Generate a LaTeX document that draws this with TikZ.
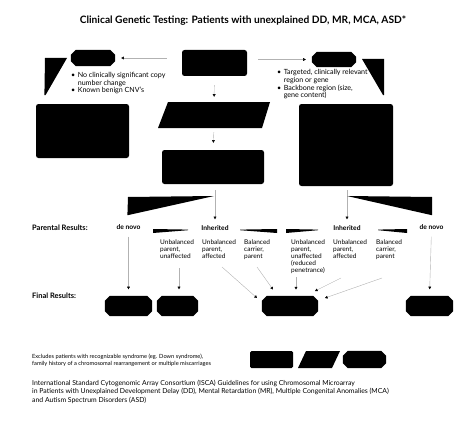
\documentclass[tikz,border=0pt]{standalone}
\usepackage{fontspec}
\setmainfont{Lato}
\usetikzlibrary{arrows.meta,calc}

\tikzset{
  blk/.style={fill=black, draw=none, rounded corners=2.5pt, inner sep=0},
  ghost/.style={inner sep=0, draw=none},
  arr/.style={draw=gray!60, line width=0.4pt, -{Triangle[length=2.6pt,width=2.8pt,color=black]}},
  tip/.style={-{Triangle[length=2.6pt,width=2.8pt,color=black]}, draw=none},
  wedge/.style={fill=black, draw=none},
  lbl/.style={font=\fontsize{6.5}{7}\selectfont, align=left, anchor=north west, inner sep=0},
  hdr/.style={font=\fontsize{6.7}{7.5}\selectfont\bfseries, inner sep=0},
  rowhdr/.style={font=\fontsize{7.5}{8}\selectfont\bfseries, inner sep=0, anchor=west},
  note/.style={align=left, anchor=north west, inner sep=0},
}

\newcommand\octbox[5]{%
  \node[ghost, minimum width=#4pt, minimum height=#5pt] (#1) at (#2,#3) {};
  \fill ([xshift=5pt]#1.north west) -- ([xshift=-5pt]#1.north east) -- ([yshift=-5pt]#1.north east)
     -- ([yshift=5pt]#1.south east) -- ([xshift=-5pt]#1.south east) -- ([xshift=5pt]#1.south west)
     -- ([yshift=5pt]#1.south west) -- ([yshift=-5pt]#1.north west) -- cycle;
}

\begin{document}
\begin{tikzpicture}[x=1pt,y=-1pt]
\useasboundingbox (0,0) rectangle (474,428);

% title
\node[font=\fontsize{10.2}{12}\selectfont\bfseries, inner sep=0] (title) at (243,21)
  {Clinical Genetic Testing: Patients with unexplained DD, MR, MCA, ASD*};

% top row
\node[blk, minimum width=65pt, minimum height=26pt] (top) at (214.5,63) {};
\octbox{octL}{93}{58}{44}{16}
\octbox{octR}{334}{59.5}{44}{15}
\draw[arr, shorten <=15pt, shorten >=6pt] (octL.east -| top.west) -- (octL.east);
\draw[arr, shorten <=11pt, shorten >=6pt] (octR.west -| top.east) -- (octR.west);

% bullets
\node[note, font=\fontsize{7.1}{7.3}\selectfont] (bulL) at (71,72.5)
  {\begin{tabular}{@{}l@{\hspace{2.5pt}}l@{}}•&No clinically significant copy\\ &number change\\ •&Known benign CNV's\end{tabular}};
\node[note, font=\fontsize{7.1}{7.4}\selectfont] (bulR) at (277,69.5)
  {\begin{tabular}{@{}l@{\hspace{2.5pt}}l@{}}•&Targeted, clinically relevant\\ &region or gene\\ •&Backbone region (size,\\ &gene content)\end{tabular}};

% middle column
\node[ghost, minimum width=112pt, minimum height=26pt] (par) at (214,115) {};
\fill (168,102) -- (270,102) -- (262,128) -- (158,128) -- cycle;
\node[blk, minimum width=102pt, minimum height=34pt] (box2) at (213,167) {};
\draw[arr, shorten <=9pt, shorten >=5pt] (top.south) -- (par.north);
\draw[arr, shorten <=4pt, shorten >=7pt] (par.south) -- (box2.north);

% big side boxes
\node[blk, minimum width=93pt, minimum height=54pt] (bigL) at (82.5,131) {};
\node[blk, minimum width=94pt, minimum height=82pt] (bigR) at (346,145) {};

% upper wedges
\fill[wedge] (45,58) -- (67,58) -- (45.6,95) -- (44.4,95) -- cycle;
\coordinate (tipL) at (45,97.5);
\draw[tip] (45,94) -- (tipL);
\fill[wedge] (362,59) -- (384,59) -- (384,95) -- (383,95) -- cycle;
\coordinate (tipR) at (383.5,97.5);
\draw[tip] (383.5,94) -- (tipR);

% parental results row
\node[rowhdr] (parental) at (32,228) {Parental Results:};
\node[hdr] (dnL) at (128.5,227) {de novo};
\node[hdr] (inhL) at (215,228) {Inherited};
\node[hdr] (inhR) at (347,228) {Inherited};
\node[hdr] (dnR) at (431.5,227) {de novo};

\draw[arr, shorten <=6pt, shorten >=6pt] (box2.south -| inhL) -- (inhL.north);
\draw[arr, shorten <=4pt, shorten >=6pt] (bigR.south -| inhR) -- (inhR.north);
\fill[wedge] (128,197) -- (214,196) -- (128.6,215) -- (127.4,215) -- cycle;
\draw[tip] (128,213) -- (128,217.5);
\fill[wedge] (347,196) -- (432,197) -- (432,215) -- (431,215) -- cycle;
\draw[tip] (431.5,213) -- (431.5,217.5);

% thin wedges beside "Inherited"
\fill[wedge] (153,229) -- (188,229.6) -- (188,230.2) -- (153,233) -- cycle;
\fill[wedge] (240,229.6) -- (277,229) -- (277,233) -- (240,230.2) -- cycle;
\fill[wedge] (286,229) -- (318,229.6) -- (318,230.2) -- (286,233) -- cycle;
\fill[wedge] (378,229.6) -- (407,229) -- (407,233) -- (378,230.2) -- cycle;

% sub labels
\node[lbl] (c1) at (160,239.3) {Unbalanced\\parent,\\unaffected};
\node[lbl] (c2) at (202,239.3) {Unbalanced\\parent,\\affected};
\node[lbl] (c3) at (244,239.3) {Balanced\\carrier,\\parent};
\node[lbl] (c4) at (291,239.3) {Unbalanced\\parent,\\unaffected\\(reduced\\penetrance)};
\node[lbl] (c5) at (333,239.3) {Unbalanced\\parent,\\affected};
\node[lbl] (c6) at (376,239.3) {Balanced\\carrier,\\parent};

% final results
\node[rowhdr] (final) at (32,296) {Final Results:};
\octbox{finA}{128.5}{306}{47}{20}
\octbox{finB}{177.5}{306}{41}{20}
\octbox{finC}{290}{306}{56}{20}
\octbox{finD}{429.5}{306}{47}{20}

\coordinate (s1) at (179,268);
\coordinate (s2) at (222,267);
\coordinate (e2) at (257,298);
\coordinate (s3) at (257,267);
\coordinate (e3) at (273,289.5);
\coordinate (s4) at (296,277);
\coordinate (e4) at (296,289.5);
\coordinate (s5) at (341,278);
\coordinate (e5) at (315,291);
\coordinate (s6) at (382,278);
\coordinate (e6) at (325,298);

\draw[arr, shorten <=7pt, shorten >=6.5pt] (dnL.south) -- (finA.north);
\draw[arr, shorten >=6.5pt] (s1) -- (s1 |- finB.north);
\draw[arr] (s2) -- (e2);
\draw[arr] (s3) -- (e3);
\draw[arr] (s4) -- (e4);
\draw[arr] (s5) -- (e5);
\draw[arr] (s6) -- (e6);
\draw[arr, shorten <=7pt, shorten >=6.5pt] (dnR.south) -- (finD.north);

% legend
\node[note, font=\fontsize{5.7}{7}\selectfont] (excl) at (32,353.5)
  {Excludes patients with recognizable syndrome (eg. Down syndrome),\\family history of a chromosomal rearrangement or multiple miscarriages};
\node[blk, rounded corners=1.5pt, minimum width=43pt, minimum height=17pt] (legR) at (271.5,359.5) {};
\node[ghost, minimum width=42pt, minimum height=17pt] (legP) at (319,359.5) {};
\fill (306,351) -- (340,351) -- (332,368) -- (298,368) -- cycle;
\octbox{legO}{364.5}{359.5}{43}{17}

\node[note, font=\fontsize{6.85}{8.5}\selectfont] (isca) at (32,379.5)
  {International Standard Cytogenomic Array Consortium (ISCA) Guidelines for using Chromosomal Microarray\\
   in Patients with Unexplained Development Delay (DD), Mental Retardation (MR), Multiple Congenital Anomalies (MCA)\\
   and Autism Spectrum Disorders (ASD)};
\end{tikzpicture}
\end{document}
